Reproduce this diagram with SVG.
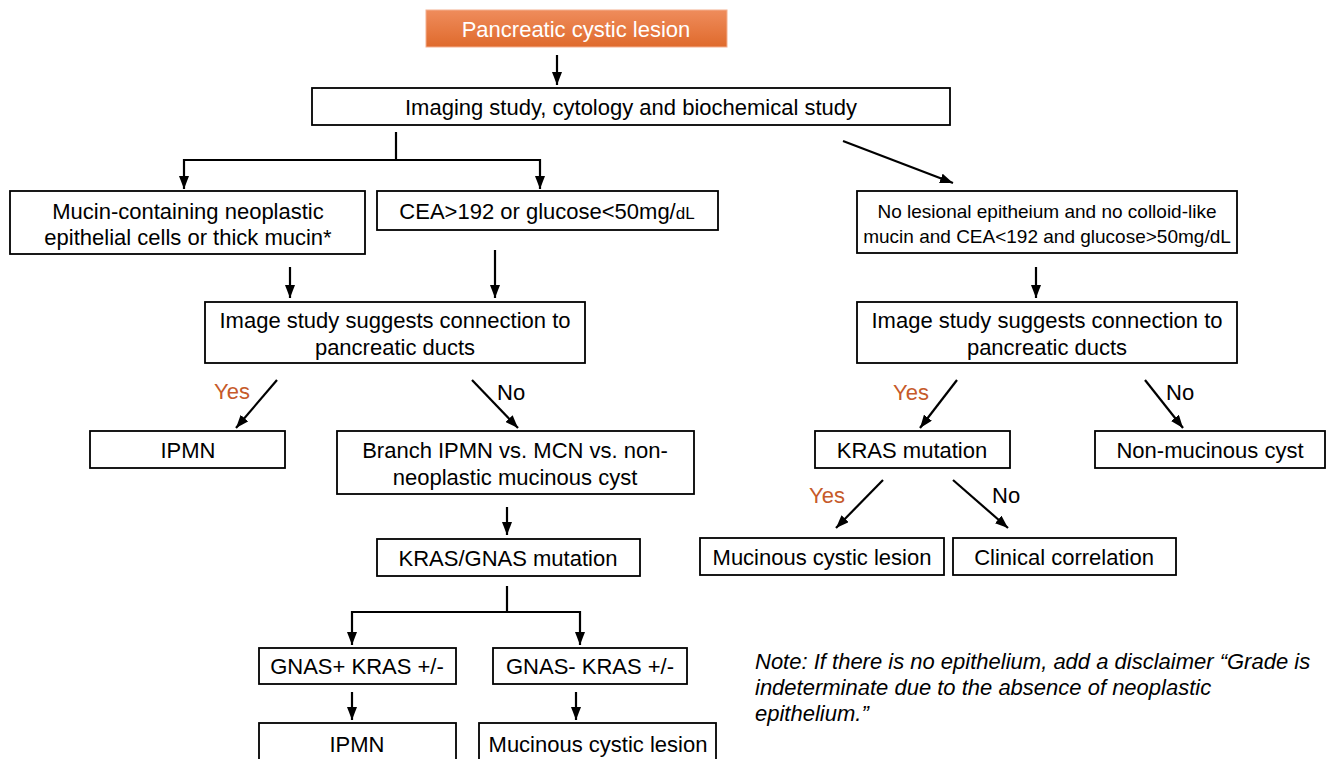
<svg xmlns="http://www.w3.org/2000/svg" width="1327" height="759" viewBox="0 0 1327 759">
<defs>
<linearGradient id="og" x1="0" y1="0" x2="0" y2="1">
<stop offset="0" stop-color="#ef8c5c"/>
<stop offset="1" stop-color="#df6a2c"/>
</linearGradient>
<marker id="ah" markerUnits="userSpaceOnUse" markerWidth="13" markerHeight="10" refX="13" refY="5" orient="auto">
<path d="M0,0 L13,5 L0,10 Z" fill="#000"/>
</marker>
<style>
.box{fill:#fff;stroke:#000;stroke-width:1.8}
.t{font-family:"Liberation Sans",Arial,sans-serif;font-size:22px;fill:#000;text-anchor:middle}
.s{font-size:19px}
.y{font-family:"Liberation Sans",Arial,sans-serif;font-size:22px;fill:#c65a2a}
.n{font-family:"Liberation Sans",Arial,sans-serif;font-size:22px;fill:#000}
.note{font-family:"Liberation Sans",Arial,sans-serif;font-size:22px;font-style:italic;fill:#000}
.c{fill:none;stroke:#000;stroke-width:2.2}
</style>
</defs>
<g id="n-start">
<rect x="426" y="10" width="301" height="37" fill="url(#og)" stroke="#f4b090" stroke-width="1"/>
<text x="576" y="37" class="t" style="fill:#fff">Pancreatic cystic lesion</text>
</g>
<g id="n-imaging">
<rect x="312" y="88" width="638" height="37" class="box"/>
<text x="631" y="115" class="t">Imaging study, cytology and biochemical study</text>
</g>
<g id="n-mucin">
<rect x="10" y="191" width="355" height="63" class="box"/>
<text x="188" y="219" class="t">Mucin-containing neoplastic</text>
<text x="188" y="245" class="t">epithelial cells or thick mucin*</text>
</g>
<g id="n-cea">
<rect x="377" y="191" width="341" height="39" class="box"/>
<text x="547" y="219" class="t">CEA&gt;192 or glucose&lt;50mg/<tspan style="font-size:17px">dL</tspan></text>
</g>
<g id="n-nolesional">
<rect x="857" y="191" width="380" height="62" class="box"/>
<text x="1047" y="218" class="t s">No lesional epitheium and no colloid-like</text>
<text x="1047" y="243" class="t s">mucin and CEA&lt;192 and glucose&gt;50mg/dL</text>
</g>
<g id="n-imgL">
<rect x="205" y="302" width="380" height="61" class="box"/>
<text x="395" y="328" class="t">Image study suggests connection to</text>
<text x="395" y="355" class="t">pancreatic ducts</text>
</g>
<g id="n-imgR">
<rect x="857" y="302" width="380" height="61" class="box"/>
<text x="1047" y="328" class="t">Image study suggests connection to</text>
<text x="1047" y="355" class="t">pancreatic ducts</text>
</g>
<g id="n-ipmn1">
<rect x="90" y="431" width="195" height="37" class="box"/>
<text x="188" y="458" class="t">IPMN</text>
</g>
<g id="n-branch">
<rect x="337" y="431" width="357" height="63" class="box"/>
<text x="515" y="458" class="t">Branch IPMN vs. MCN vs. non-</text>
<text x="515" y="485" class="t">neoplastic mucinous cyst</text>
</g>
<g id="n-krasgnas">
<rect x="377" y="539" width="263" height="37" class="box"/>
<text x="508" y="566" class="t">KRAS/GNAS mutation</text>
</g>
<g id="n-gnasp">
<rect x="259" y="648" width="197" height="36" class="box"/>
<text x="357" y="674" class="t">GNAS+ KRAS +/-</text>
</g>
<g id="n-gnasm">
<rect x="493" y="648" width="194" height="36" class="box"/>
<text x="590" y="674" class="t">GNAS- KRAS +/-</text>
</g>
<g id="n-ipmn2">
<rect x="259" y="723" width="197" height="40" class="box"/>
<text x="357" y="752" class="t">IPMN</text>
</g>
<g id="n-mcl1">
<rect x="479" y="723" width="237" height="40" class="box"/>
<text x="598" y="752" class="t">Mucinous cystic lesion</text>
</g>
<g id="n-kras">
<rect x="815" y="431" width="195" height="37" class="box"/>
<text x="912" y="458" class="t">KRAS mutation</text>
</g>
<g id="n-nonmuc">
<rect x="1095" y="431" width="230" height="37" class="box"/>
<text x="1210" y="458" class="t">Non-mucinous cyst</text>
</g>
<g id="n-mcl2">
<rect x="700" y="538" width="244" height="37" class="box"/>
<text x="822" y="565" class="t">Mucinous cystic lesion</text>
</g>
<g id="n-clin">
<rect x="953" y="538" width="223" height="37" class="box"/>
<text x="1064" y="565" class="t">Clinical correlation</text>
</g>
<g id="note">
<text x="755" y="669" class="note">Note: If there is no epithelium, add a disclaimer “Grade is</text>
<text x="755" y="695" class="note">indeterminate due to the absence of neoplastic</text>
<text x="755" y="721" class="note">epithelium.”</text>
</g>
<g id="connectors">
<path d="M557,55 V85" class="c" marker-end="url(#ah)"/>
<path d="M396,132 V160" class="c"/>
<path d="M184,160 H540" class="c"/>
<path d="M184,159 V189" class="c" marker-end="url(#ah)"/>
<path d="M540,159 V189" class="c" marker-end="url(#ah)"/>
<path d="M843,141 L953,183" class="c" marker-end="url(#ah)"/>
<path d="M290,267 V298" class="c" marker-end="url(#ah)"/>
<path d="M495,250 V298" class="c" marker-end="url(#ah)"/>
<path d="M1036,267 V298" class="c" marker-end="url(#ah)"/>
<path d="M277,380 L236,428" class="c" marker-end="url(#ah)"/>
<path d="M472,380 L518,428" class="c" marker-end="url(#ah)"/>
<path d="M507,507 V535" class="c" marker-end="url(#ah)"/>
<path d="M507,586 V612" class="c"/>
<path d="M352,612 H580" class="c"/>
<path d="M352,611 V645" class="c" marker-end="url(#ah)"/>
<path d="M580,611 V645" class="c" marker-end="url(#ah)"/>
<path d="M352,692 V720" class="c" marker-end="url(#ah)"/>
<path d="M576,692 V720" class="c" marker-end="url(#ah)"/>
<path d="M957,380 L920,428" class="c" marker-end="url(#ah)"/>
<path d="M1145,380 L1183,428" class="c" marker-end="url(#ah)"/>
<path d="M883,480 L836,528" class="c" marker-end="url(#ah)"/>
<path d="M953,480 L1008,528" class="c" marker-end="url(#ah)"/>
</g>
<g id="labels">
<text x="214" y="399" class="y">Yes</text>
<text x="497" y="400" class="n">No</text>
<text x="893" y="400" class="y">Yes</text>
<text x="1166" y="400" class="n">No</text>
<text x="809" y="503" class="y">Yes</text>
<text x="992" y="503" class="n">No</text>
</g>
</svg>
